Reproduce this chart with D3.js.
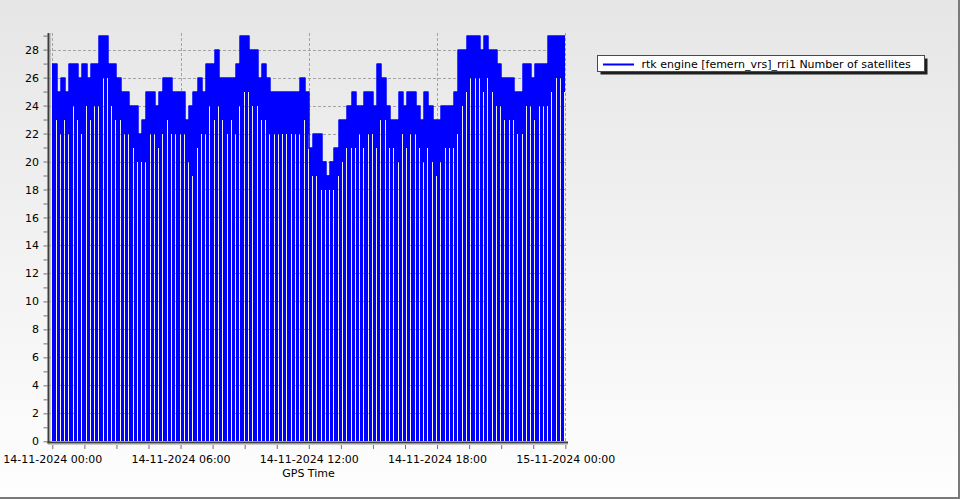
<!DOCTYPE html>
<html><head><meta charset="utf-8">
<script src="https://cdn.jsdelivr.net/npm/d3@7"></script>
<style>body{margin:0;background:#fff;} svg{display:block;font-family:"DejaVu Sans",sans-serif;}</style>
</head><body>
<svg id="chart" width="960" height="500"></svg>
<script>
// ---------------- data ----------------
const startTime = Date.UTC(2024, 10, 14, 0, 0);
const binMinutes = 12;
// highest satellite count in each 12-minute bin
const topSats = [
  27,25,26,25,27,27,26,27,26,27,
  27,29,29,27,27,26,25,25,24,24,
  22,23,25,25,24,25,26,26,25,25,
  25,23,24,25,26,25,27,27,28,26,
  26,26,26,27,29,29,28,28,26,27,
  26,25,25,25,25,25,25,25,26,25,
  21,22,22,20,19,20,21,23,23,24,
  25,24,24,25,25,24,27,26,24,23,
  23,25,24,25,25,24,23,25,24,23,
  23,24,24,24,25,28,28,29,29,29,
  28,29,28,28,27,26,26,26,25,25,
  27,27,26,27,27,27,29,29,29,29
];
// lowest non-zero satellite count in each bin
const lowSats = [
  23,22,23,22,24,23,22,24,23,24,
  24,26,26,24,23,23,22,22,21,20,
  20,20,22,22,21,22,23,22,22,22,
  22,20,19,21,22,22,24,23,24,23,
  22,23,22,24,25,25,24,24,23,23,
  22,22,22,22,22,22,22,22,23,22,
  19,19,18,18,18,18,19,20,21,21,
  21,22,21,22,22,21,23,23,21,21,
  20,22,21,22,22,21,20,21,20,19,
  20,21,21,21,22,24,25,26,26,26,
  25,26,25,24,24,23,23,23,22,22,
  24,24,23,24,24,24,25,26,26,25
];
const xTickHours = [0, 6, 12, 18, 24];
const xTickLabels = ["14-11-2024 00:00", "14-11-2024 06:00", "14-11-2024 12:00", "14-11-2024 18:00", "15-11-2024 00:00"];
const xMinorStepHours = 1.5;
const yTickValues = d3.range(0, 30, 1);
const yLabelStep = 2;
const seriesName = "rtk engine [femern_vrs]_rri1 Number of satellites";
const xAxisTitle = "GPS Time";

// ---------------- layout ----------------
const svg = d3.select("#chart");
const W = 960, H = 500;
const plotLeft = 48, plotTop = 33, plotRight = 567, plotBottom = 442;
const HOUR = 3600 * 1000;
const FS = 11;

const x = d3.scaleUtc()
  .domain([new Date(startTime), new Date(startTime + 24 * HOUR)])
  .range([52.3, 565.3]);
const y = d3.scaleLinear().domain([0, 28]).range([441.3, 49.6]);

// background
const defs = svg.append("defs");
const grad = defs.append("linearGradient").attr("id", "bg").attr("x1", 0).attr("y1", 0).attr("x2", 0).attr("y2", 1);
grad.append("stop").attr("offset", "0%").attr("stop-color", "#e6e6e6");
grad.append("stop").attr("offset", "100%").attr("stop-color", "#fefefe");
svg.append("rect").attr("width", W).attr("height", H).attr("fill", "url(#bg)");
svg.append("line").attr("x1", 0).attr("x2", 959).attr("y1", 498).attr("y2", 498).attr("stroke", "#7a7a7a").attr("stroke-width", 2);
svg.append("line").attr("x1", 959).attr("x2", 959).attr("y1", 0).attr("y2", 499).attr("stroke", "#7a7a7a").attr("stroke-width", 2);

// grid
const grid = svg.append("g").attr("stroke", "#a4a4a4").attr("stroke-width", 1).attr("stroke-dasharray", "3,2");
grid.selectAll("line.h").data(yTickValues.filter(v => v % yLabelStep === 0 && v > 0)).join("line")
  .attr("x1", plotLeft).attr("x2", plotRight)
  .attr("y1", d => Math.round(y(d)) + 0.5).attr("y2", d => Math.round(y(d)) + 0.5);
grid.selectAll("line.v").data(xTickHours).join("line")
  .attr("y1", plotTop).attr("y2", plotBottom - 1)
  .attr("x1", d => Math.round(x(new Date(startTime + d * HOUR))) + 0.5)
  .attr("x2", d => Math.round(x(new Date(startTime + d * HOUR))) + 0.5);

// series
const bins = topSats.map((t, i) => ({
  t0: new Date(startTime + i * binMinutes * 60000),
  t1: new Date(startTime + (i + 1) * binMinutes * 60000),
  top: t, low: lowSats[i]
}));
const blue = "#0000ff";
const series = svg.append("g");
series.selectAll("rect.spike").data(bins).join("rect")
  .attr("x", d => Math.round(x(d.t0)))
  .attr("width", d => Math.max(1, Math.round(x(d.t1)) - Math.round(x(d.t0)) - 1))
  .attr("y", d => y(d.low))
  .attr("height", d => y(0) - y(d.low))
  .attr("fill", blue)
  .attr("shape-rendering", "crispEdges");
const stepData = bins.map(d => ({t: d.t0, top: d.top, low: d.low}));
stepData.push({t: bins[bins.length - 1].t1, top: bins[bins.length - 1].top, low: bins[bins.length - 1].low});
series.append("path").datum(stepData)
  .attr("d", d3.area().x(d => Math.round(x(d.t))).y0(d => y(d.low) + 0.5).y1(d => y(d.top)).curve(d3.curveStepAfter))
  .attr("fill", blue);
series.append("path").datum(stepData)
  .attr("d", d3.line().x(d => Math.round(x(d.t))).y(d => y(d.top) + 0.6).curve(d3.curveStepAfter))
  .attr("fill", "none").attr("stroke", blue).attr("stroke-width", 1.5);

// axes
const yAxis = d3.axisLeft(y).tickValues(yTickValues).tickSize(4).tickPadding(4.5)
  .tickFormat(d => d % yLabelStep === 0 ? d : "");
const gy = svg.append("g").attr("transform", `translate(${plotLeft - 0.5},0)`).call(yAxis);
gy.select(".domain").remove();
gy.selectAll(".tick line").attr("stroke", "#707070");
gy.selectAll(".tick text").attr("font-family", "DejaVu Sans").attr("font-size", FS).attr("fill", "#000");

const minorHours = d3.range(0, 24.01, xMinorStepHours);
const xAxis = d3.axisBottom(x).tickValues(minorHours.map(h => new Date(startTime + h * HOUR))).tickSize(4).tickPadding(5.9)
  .tickFormat((d, i) => { const h = minorHours[i]; const k = xTickHours.indexOf(h); return k >= 0 ? xTickLabels[k] : ""; });
const gx = svg.append("g").attr("transform", `translate(0,${plotBottom + 3})`).call(xAxis);
gx.select(".domain").remove();
gx.selectAll(".tick line").attr("stroke", "#707070");
gx.selectAll(".tick text").attr("font-family", "DejaVu Sans").attr("font-size", FS).attr("fill", "#000");

// thick axis lines
svg.append("line").attr("x1", 48.5).attr("x2", 48.5).attr("y1", plotTop).attr("y2", plotBottom + 1.5).attr("stroke", "#3c3c3c").attr("stroke-width", 2);
svg.append("line").attr("x1", 50).attr("x2", 50).attr("y1", plotTop).attr("y2", plotBottom).attr("stroke", "#9a9a9a").attr("stroke-width", 1);
svg.append("line").attr("x1", 47.5).attr("x2", 568).attr("y1", 442.5).attr("y2", 442.5).attr("stroke", "#3c3c3c").attr("stroke-width", 2);
svg.append("line").attr("x1", 48).attr("x2", 568).attr("y1", 444).attr("y2", 444).attr("stroke", "#9a9a9a").attr("stroke-width", 1);

// axis title
svg.append("text").attr("x", 308.5).attr("y", 477).attr("text-anchor", "middle")
  .attr("font-size", FS).attr("fill", "#000").text(xAxisTitle);

// legend
const lg = svg.append("g");
lg.append("rect").attr("x", 600.5).attr("y", 58.5).attr("width", 327).attr("height", 16).attr("fill", "#1e1e1e");
lg.append("rect").attr("x", 597.5).attr("y", 55.5).attr("width", 327).attr("height", 16).attr("fill", "#fff").attr("stroke", "#4a4a4a");
lg.append("line").attr("x1", 603).attr("x2", 634).attr("y1", 64.5).attr("y2", 64.5).attr("stroke", blue).attr("stroke-width", 2);
const lt = lg.append("text").attr("x", 641.5).attr("y", 67.5).attr("font-size", 10).attr("fill", "#000").text(seriesName);
const len = lt.node().getComputedTextLength();
const wanted = 274;
if (len > 0) lt.attr("font-size", Math.min(11, 10 * wanted / len));
</script>
</body></html>
